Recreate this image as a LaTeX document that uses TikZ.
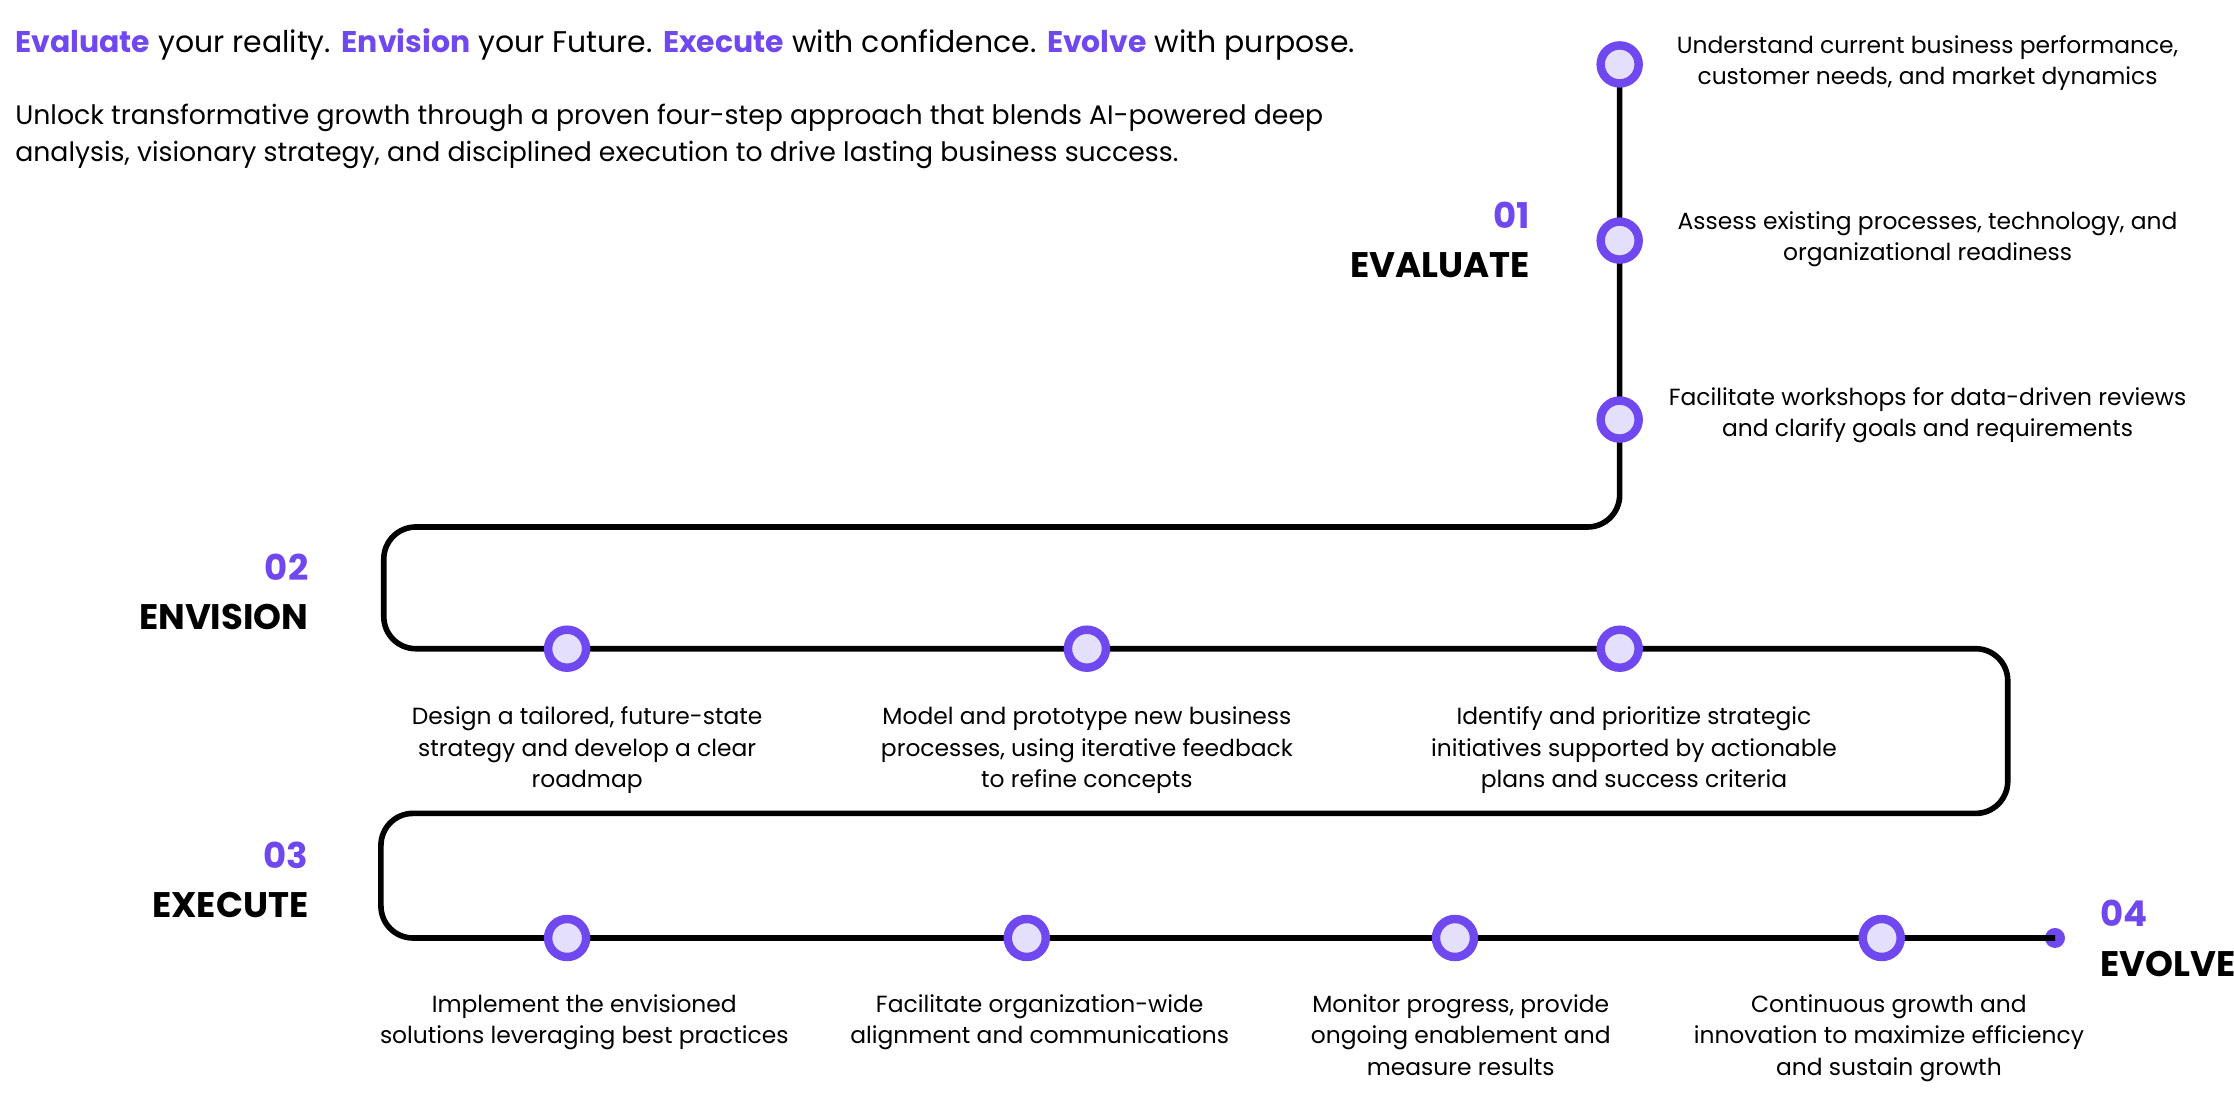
\documentclass[tikz,border=0pt]{standalone}
\usepackage{fontspec}
\setmainfont{Poppins}
\definecolor{pur}{HTML}{7048F0}
\definecolor{lav}{HTML}{E4E0FB}
\begin{document}
\begin{tikzpicture}[x=0.01432cm,y=-0.01432cm,
  stepc/.style={circle,draw=pur,fill=lav,line width=2.4pt,minimum size=0.38cm,inner sep=0},
  desc/.style={align=center,font=\fontsize{6.65}{8.9}\selectfont,text=black},
  num/.style={font=\fontsize{10.1}{11}\bfseries\selectfont,text=pur},
  ttl/.style={font=\fontsize{10.1}{11}\bfseries\selectfont,text=black},
  track/.style={line width=1.6pt,rounded corners=0.32cm}]
\useasboundingbox (0,0) rectangle (1560,765);
\coordinate (s) at (1131,30);
\coordinate (a1) at (1131,368);
\coordinate (a2) at (268,368);
\coordinate (a3) at (268,453);
\coordinate (a4) at (1402,453);
\coordinate (a5) at (1402,568);
\coordinate (a6) at (266,568);
\coordinate (a7) at (266,655);
\node[circle,fill=pur,minimum size=0.2cm,inner sep=0] (end) at (1435,655) {};
\draw[track] (s) -- (a1) -- (a2) -- (a3) -- (a4) -- (a5) -- (a6) -- (a7) -- (end.center);
\node[stepc] (e1) at (1131,45) {};
\node[stepc] (e2) at (1131,168) {};
\node[stepc] (e3) at (1131,293) {};
\node[stepc] (n1) at (396,453) {};
\node[stepc] (n2) at (759,453) {};
\node[stepc] (n3) at (1131,453) {};
\node[stepc] (x1) at (396,655) {};
\node[stepc] (x2) at (717,655) {};
\node[stepc] (x3) at (1016,655) {};
\node[stepc] (x4) at (1314,655) {};
\node[anchor=west,font=\fontsize{8.5}{10}\selectfont] (h1) at (2,31) {\textcolor{pur}{\textbf{Evaluate}} your reality. \textcolor{pur}{\textbf{Envision}} your Future. \textcolor{pur}{\textbf{Execute}} with confidence. \textcolor{pur}{\textbf{Evolve}} with purpose.};
\node[anchor=north west,align=left,font=\fontsize{7.6}{10.4}\selectfont] (h2) at (2,64) {Unlock transformative growth through a proven four-step approach that blends AI-powered deep\\analysis, visionary strategy, and disciplined execution to drive lasting business success.};
\node[desc] (d1) at (1346,44) {Understand current business performance,\\customer needs, and market dynamics};
\node[desc] (d2) at (1346,167) {Assess existing processes, technology, and\\organizational readiness};
\node[desc] (d3) at (1346,290) {Facilitate workshops for data-driven reviews\\and clarify goals and requirements};
\node[desc,anchor=north] (d4) at (410,485) {Design a tailored, future-state\\strategy and develop a clear\\roadmap};
\node[desc,anchor=north] (d5) at (759,485) {Model and prototype new business\\processes, using iterative feedback\\to refine concepts};
\node[desc,anchor=north] (d6) at (1141,485) {Identify and prioritize strategic\\initiatives supported by actionable\\plans and success criteria};
\node[desc,anchor=north] (d7) at (408,686) {Implement the envisioned\\solutions leveraging best practices};
\node[desc,anchor=north] (d8) at (726,686) {Facilitate organization-wide\\alignment and communications};
\node[desc,anchor=north] (d9) at (1020,686) {Monitor progress, provide\\ongoing enablement and\\measure results};
\node[desc,anchor=north] (d10) at (1319,686) {Continuous growth and\\innovation to maximize efficiency\\and sustain growth};
\node[num,anchor=east] (k1) at (1077,150) {01};
\node[ttl,anchor=east] (t1) at (1077,185) {EVALUATE};
\node[num,anchor=east] (k2) at (224,396) {02};
\node[ttl,anchor=east] (t2) at (224,431) {ENVISION};
\node[num,anchor=east] (k3) at (224,597) {03};
\node[ttl,anchor=east] (t3) at (224,632) {EXECUTE};
\node[num,anchor=west] (k4) at (1458,638) {04};
\node[ttl,anchor=west] (t4) at (1458,673) {EVOLVE};
\end{tikzpicture}
\end{document}
